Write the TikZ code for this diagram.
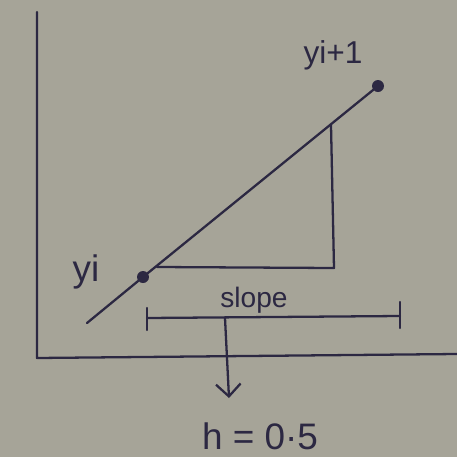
\documentclass[tikz,border=0pt]{standalone}
\usepackage{fontspec}
\setmainfont{Liberation Sans}
\usetikzlibrary{arrows.meta}
\definecolor{carta}{RGB}{166,164,152}
\definecolor{inchiostro}{RGB}{44,40,66}
\begin{document}
\begin{tikzpicture}[x=0.02cm, y=-0.02cm]
    % Definizione stili
    \tikzstyle{tratto}=[draw=inchiostro, line width=1.3pt, line cap=round, line join=round]
    \tikzstyle{punto}=[circle, fill=inchiostro, inner sep=0pt, minimum size=0.24cm]
    \tikzstyle{etichetta}=[text=inchiostro, font=\fontsize{18}{21}\selectfont]
    \tikzstyle{freccia}=[tratto, -{Straight Barb[length=7pt, width=14pt]}]

    % Sfondo
    \fill[carta] (0,0) rectangle (457,457);
    \useasboundingbox (0,0) rectangle (457,457);

    % Assi
    \coordinate (cima) at (37,12);
    \coordinate (origine) at (37,358);
    \coordinate (destra) at (457,354);
    \draw[tratto] (cima) -- (origine) -- (destra);

    % Punti e retta
    \node[punto] (yi) at (143,277) {};
    \node[punto] (yi_succ) at (378,86) {};
    \coordinate (coda) at (87,323);
    \draw[tratto] (coda) -- (yi) -- (yi_succ);

    % Triangolo
    \coordinate (vertice) at (331,125);
    \coordinate (angolo) at (334,268);
    \coordinate (base) at (157,267);
    \draw[tratto] (vertice) -- (angolo) -- (base);

    % Etichette dei punti
    \node[etichetta, font=\fontsize{21}{25}\selectfont] (lab_yi) at (86,272) {yi};
    \node[etichetta] (lab_yi_succ) at (333,55) {yi+1};

    % Intervallo
    \coordinate (sinistra) at (147,318);
    \coordinate (fine) at (400,316);
    \draw[tratto] (sinistra) -- (fine);
    \draw[tratto] ([yshift=0.2cm]sinistra) -- ([yshift=-0.24cm]sinistra);
    \draw[tratto] ([yshift=0.28cm]fine) -- ([yshift=-0.24cm]fine);
    \node[etichetta, font=\fontsize{16}{19}\selectfont] (pendenza) at (254,300) {slope};

    % Passo
    \coordinate (partenza) at (225,318);
    \coordinate (punta) at (229,398);
    \draw[freccia] (partenza) -- (punta);
    \node[etichetta, font=\fontsize{21}{25}\selectfont] (passo) at (260,436) {h = 0·5};
\end{tikzpicture}
\end{document}
